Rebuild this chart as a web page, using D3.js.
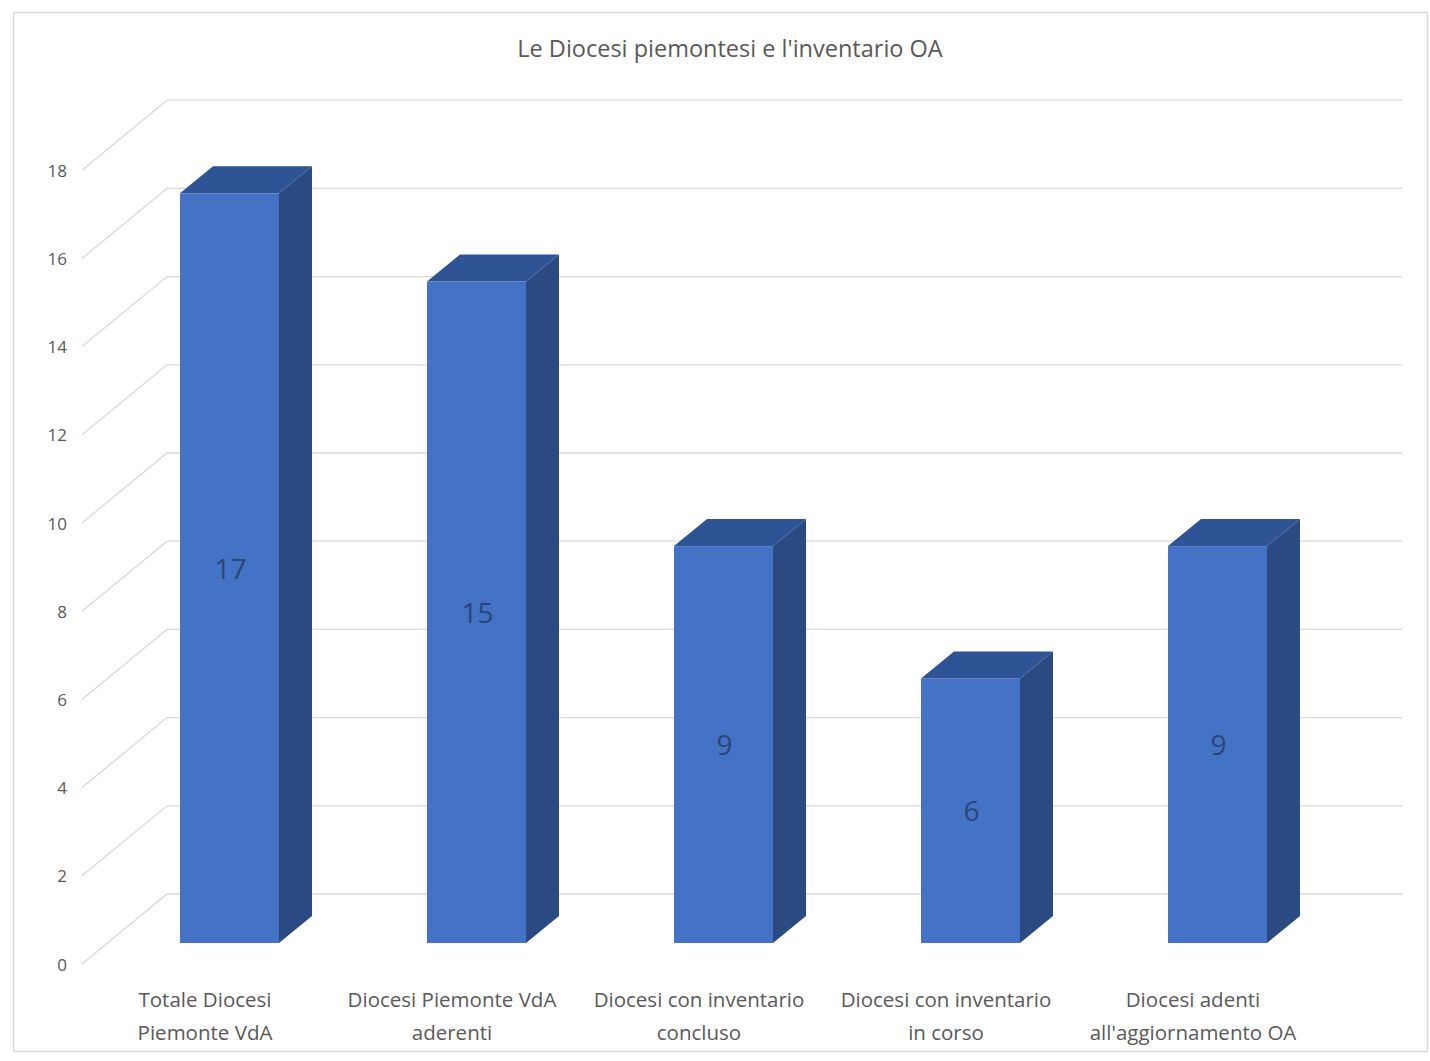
<!DOCTYPE html>
<html>
<head>
<meta charset="utf-8">
<script src="https://cdn.jsdelivr.net/npm/d3@7"></script>
<style>
  html, body { margin: 0; padding: 0; background: #ffffff; }
  svg { display: block; }
  text { font-family: "Open Sans", "Liberation Sans", sans-serif; }
</style>
</head>
<body>
<script>
const chartTitle = "Le Diocesi piemontesi e l'inventario OA";
const categories = [
  "Totale Diocesi\nPiemonte VdA",
  "Diocesi Piemonte VdA\naderenti",
  "Diocesi con inventario\nconcluso",
  "Diocesi con inventario\nin corso",
  "Diocesi adenti\nall'aggiornamento OA"
];
const values = [17, 15, 9, 6, 9];
const yTicks = [0, 2, 4, 6, 8, 10, 12, 14, 16, 18];

const W = 1430, H = 1061;
const svg = d3.select("body").append("svg").attr("width", W).attr("height", H);

// chart border
svg.append("rect")
  .attr("x", 13.5).attr("y", 12.5).attr("width", 1414).attr("height", 1039)
  .attr("fill", "#fff").attr("stroke", "#d9d9d9").attr("stroke-width", 1.5);

// scales (front plane)
const y = d3.scaleLinear().domain([0, 18]).range([943, 943 - 18 * 44.1]);
const x = d3.scaleBand().domain(categories).range([81.5, 1316.5]);

// 3D offsets
const wallDx = 85, wallDy = -70;
const lineStartX = 82;
const backOffsetY = -49;
const wallRight = 1402;
const barDx = 33, barDy = -27;
const barW = 99, barShift = -25;

// gridlines
const grid = svg.append("g").attr("stroke", "#d9d9d9").attr("stroke-width", 1.3).attr("fill", "none");
yTicks.forEach(t => {
  const by = y(t) + backOffsetY;
  grid.append("path")
    .attr("d", `M${lineStartX},${by - wallDy} L${lineStartX + wallDx},${by} L${wallRight},${by}`);
});

// tick labels
svg.append("g").selectAll("text").data(yTicks).join("text")
  .attr("x", 67).attr("y", d => y(d) + backOffsetY - wallDy + 2)
  .attr("text-anchor", "end").attr("dominant-baseline", "middle")
  .attr("font-size", 17).attr("fill", "#595959")
  .text(d => d);

// bars
const bars = svg.append("g").selectAll("g").data(categories.map((c, i) => ({c, v: values[i]}))).join("g");
bars.each(function(d) {
  const g = d3.select(this);
  const x0 = x(d.c) + x.bandwidth() / 2 + barShift;
  const x1 = x0 + barW;
  const yt = y(d.v), yb = y(0);
  g.append("path")
    .attr("d", `M${x1},${yt} L${x1 + barDx},${yt + barDy} L${x1 + barDx},${yb + barDy} L${x1},${yb} Z`)
    .attr("fill", "#2b4a82");
  g.append("path")
    .attr("d", `M${x0},${yt} L${x0 + barDx},${yt + barDy} L${x1 + barDx},${yt + barDy} L${x1},${yt} Z`)
    .attr("fill", "#2f5496");
  g.append("rect")
    .attr("x", x0).attr("y", yt).attr("width", barW).attr("height", yb - yt)
    .attr("fill", "#4472c4");
  g.append("text")
    .attr("x", x0 + barW / 2 + 1).attr("y", (yt + yb) / 2 + 3)
    .attr("text-anchor", "middle").attr("dominant-baseline", "middle")
    .attr("font-size", 28).attr("fill", "#2a4577")
    .text(d.v);
});

// category labels
const cat = svg.append("g").selectAll("text").data(categories).join("text")
  .attr("text-anchor", "middle").attr("font-size", 20.5).attr("fill", "#595959")
  .attr("x", d => x(d) + x.bandwidth() / 2)
  .attr("y", 1007);
cat.each(function(d) {
  const t = d3.select(this);
  d.split("\n").forEach((line, i) => {
    t.append("tspan").attr("x", x(d) + x.bandwidth() / 2).attr("dy", i === 0 ? 0 : 33).text(line);
  });
});

// title
svg.append("text")
  .attr("x", 730).attr("y", 57).attr("text-anchor", "middle")
  .attr("font-size", 23.5).attr("fill", "#595959")
  .text(chartTitle);
</script>
</body>
</html>
